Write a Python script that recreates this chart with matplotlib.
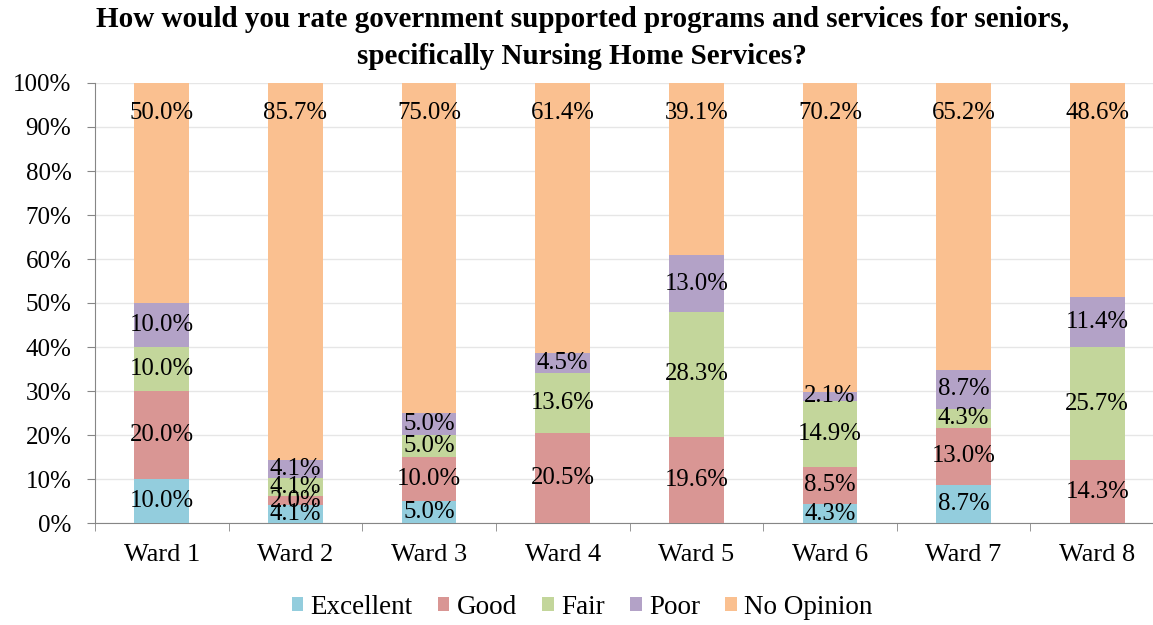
import matplotlib
matplotlib.use("Agg")
import matplotlib.pyplot as plt
import numpy as np

# survey results per ward (percent of respondents)
wards = ['Ward 1', 'Ward 2', 'Ward 3', 'Ward 4', 'Ward 5', 'Ward 6', 'Ward 7', 'Ward 8']
excellent = [10.0, 4.1, 5.0, 0.0, 0.0, 4.3, 8.7, 0.0]
good = [20.0, 2.0, 10.0, 20.5, 19.6, 8.5, 13.0, 14.3]
fair = [10.0, 4.1, 5.0, 13.6, 28.3, 14.9, 4.3, 25.7]
poor = [10.0, 4.1, 5.0, 4.5, 13.0, 2.1, 8.7, 11.4]
no_opinion = [50.0, 85.7, 75.0, 61.4, 39.1, 70.2, 65.2, 48.6]

series = [excellent, good, fair, poor, no_opinion]
names = ['Excellent', 'Good', 'Fair', 'Poor', 'No Opinion']
colors = ['#93CDDD', '#D99694', '#C3D69B', '#B3A2C7', '#FAC090']

plt.rcParams['font.family'] = ['Liberation Serif', 'DejaVu Serif']

fig = plt.figure(figsize=(11.53, 6.25), dpi=100)
# axes spans a bit past the right edge, like the cropped screenshot
ax = fig.add_axes([95 / 1153, 102 / 625, 1069 / 1153, 440 / 625])

x = np.arange(len(wards))
bottom = np.zeros(len(wards))
for vals, name, col in zip(series, names, colors):
    vals = np.array(vals)
    ax.bar(x, vals, width=0.41, bottom=bottom, color=col, label=name, zorder=3)
    for i, v in enumerate(vals):
        if v <= 0:
            continue
        if name == 'No Opinion':
            ypos = 93.2
        else:
            ypos = bottom[i] + v / 2
        ax.text(x[i], ypos, '%.1f%%' % v, ha='center', va='center',
                fontsize=17.8, color='black', zorder=4)
    bottom += vals

ax.set_xlim(-0.5, len(wards) - 0.5)
ax.set_ylim(0, 100)
ax.set_yticks(np.arange(0, 101, 10))
ax.set_yticklabels(['%d%%' % t for t in range(0, 101, 10)])
ax.set_xticks(x)
ax.set_xticklabels(wards)
ax.set_xticks(np.arange(-0.5, len(wards), 1), minor=True)

ax.tick_params(axis='y', labelsize=18, length=6, color='#868686', pad=11)
ax.tick_params(axis='x', which='major', labelsize=19, length=0, pad=15)
ax.tick_params(axis='x', which='minor', length=6, color='#868686')

ax.grid(axis='y', color='#E6E6E6', linewidth=1, zorder=0)
for s in ['top', 'right']:
    ax.spines[s].set_visible(False)
for s in ['left', 'bottom']:
    ax.spines[s].set_color('#868686')

fig.text(0.505, 0.99, 'How would you rate government supported programs and services for seniors,\n'
         'specifically Nursing Home Services?', ha='center', va='top',
         fontsize=21, fontweight='bold', linespacing=1.45)

fig.legend(loc='center', bbox_to_anchor=(0.505, 0.028), ncol=5, frameon=False,
           fontsize=19.5, handlelength=0.42, handleheight=0.42, handletextpad=0.28,
           columnspacing=0.93)

fig.savefig('out.png', dpi=100)
